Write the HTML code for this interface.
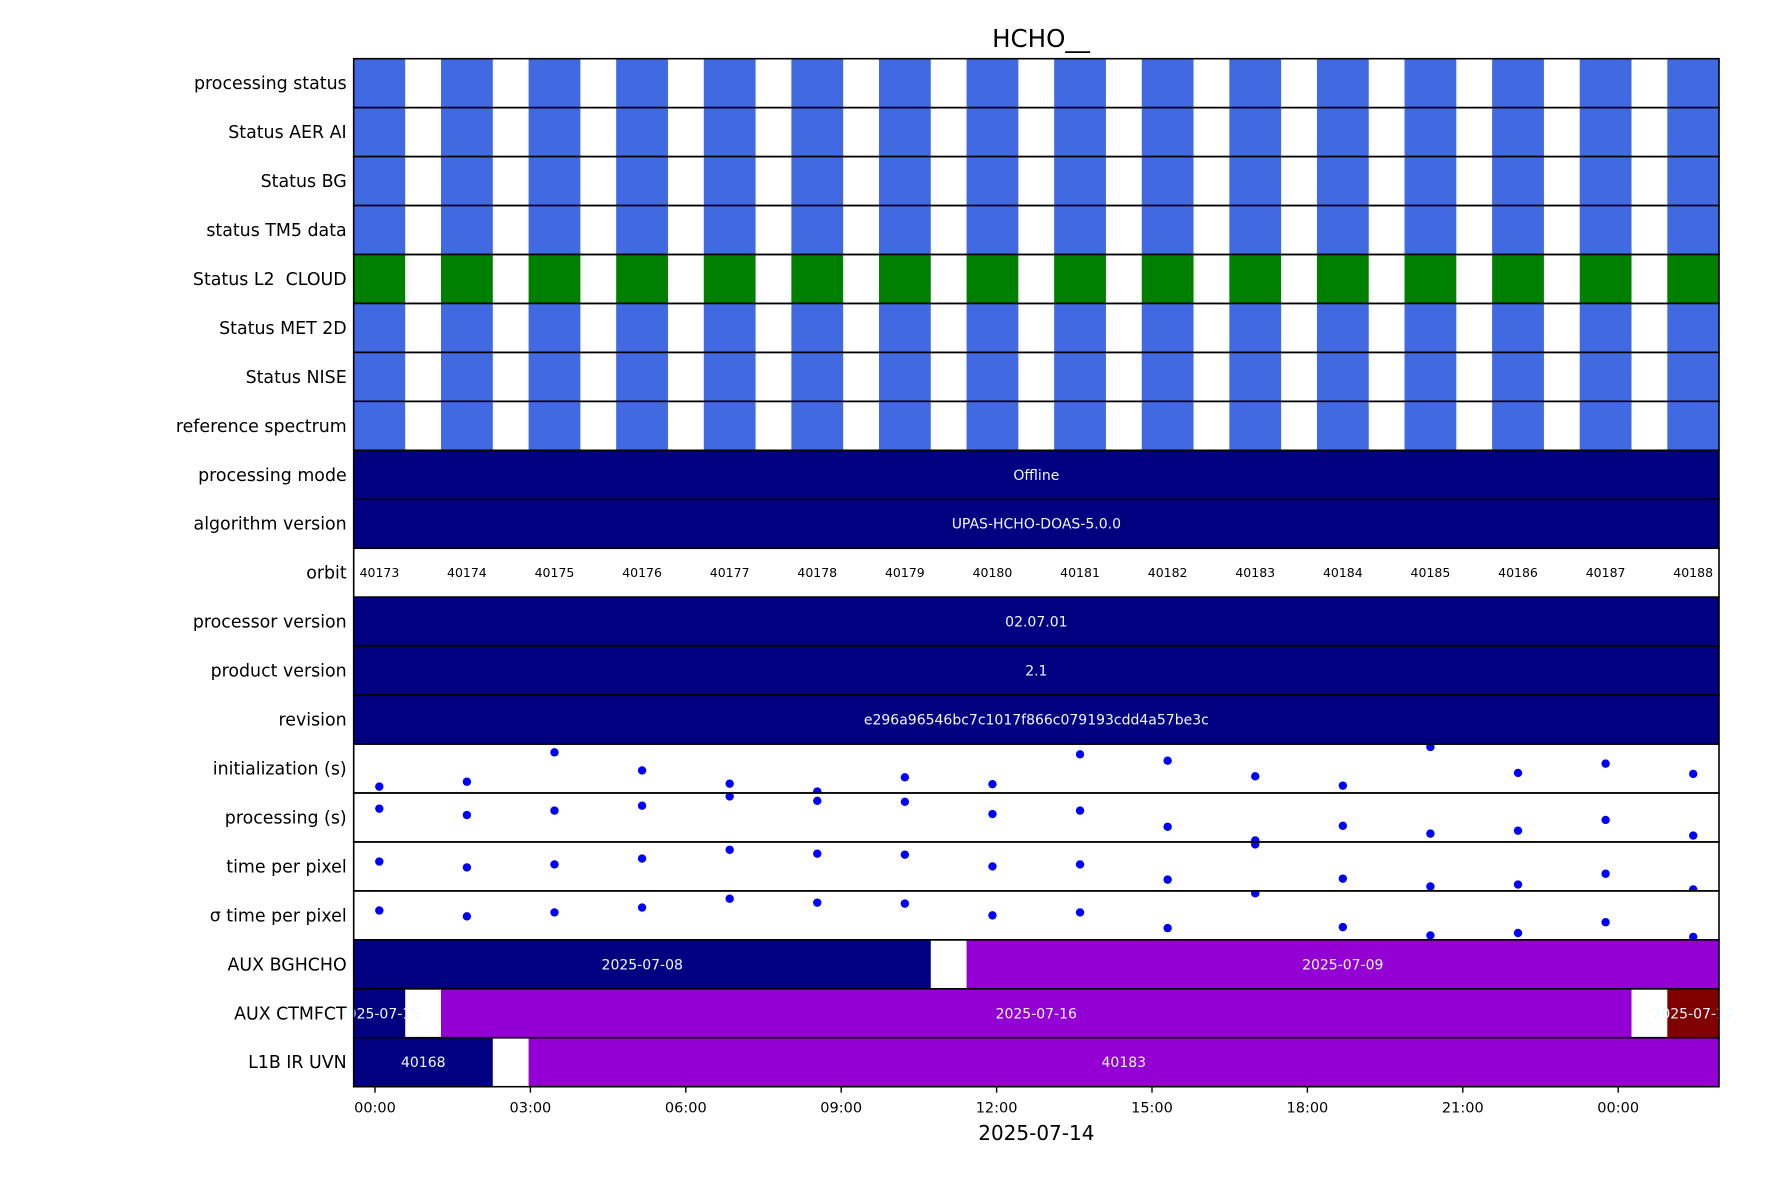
<!DOCTYPE html>
<html><head><meta charset="utf-8"><style>
html,body{margin:0;padding:0;background:#fff}
svg{display:block;font-family:"DejaVu Sans","Liberation Sans",sans-serif}
text{white-space:pre}
</style></head><body>
<svg id="chart" width="1771" height="1181" viewBox="0 0 1771 1181" xmlns="http://www.w3.org/2000/svg"></svg>
<script>
const rowLabels = ["processing status","Status AER AI","Status BG","status TM5 data","Status L2  CLOUD","Status MET 2D","Status NISE","reference spectrum","processing mode","algorithm version","orbit","processor version","product version","revision","initialization (s)","processing (s)","time per pixel","σ time per pixel","AUX BGHCHO","AUX CTMFCT","L1B IR UVN"];
const orbitNumbers = [40173,40174,40175,40176,40177,40178,40179,40180,40181,40182,40183,40184,40185,40186,40187,40188];
const orbitStartHours = [-0.417,1.274,2.965,4.656,6.347,8.038,9.729,11.420,13.111,14.802,16.493,18.184,19.875,21.566,23.257,24.948];
const orbitDurationHours = 1.0;
const initValues = [0.13,0.23,0.83,0.46,0.19,0.03,0.32,0.18,0.79,0.66,0.34,0.15,0.94,0.41,0.60,0.39];
const procValues = [0.68,0.55,0.64,0.74,0.93,0.84,0.82,0.57,0.64,0.31,0.03,0.33,0.17,0.23,0.45,0.13];
const tppValues = [0.60,0.48,0.54,0.66,0.84,0.76,0.74,0.50,0.54,0.23,0.95,0.25,0.09,0.13,0.35,0.03];
const sigmaValues = [0.60,0.48,0.56,0.66,0.84,0.76,0.74,0.50,0.56,0.24,0.95,0.26,0.09,0.14,0.36,0.06];
const constantRows = {8:"Offline",9:"UPAS-HCHO-DOAS-5.0.0",11:"02.07.01",12:"2.1",13:"e296a96546bc7c1017f866c079193cdd4a57be3c"};
const bgStarts = [-0.417,11.420], bgEnds = [10.729,25.95], bgLabels = ["2025-07-08","2025-07-09"], bgColors = ["#000080","#9400D3"];
const ctmStarts = [-0.417,1.274,24.948], ctmEnds = [0.583,24.257,25.95], ctmLabels = ["2025-07-15","2025-07-16","2025-07-17"], ctmColors = ["#000080","#9400D3","#800000"];
const l1bStarts = [-0.417,2.965], l1bEnds = [2.274,25.95], l1bLabels = ["40168","40183"], l1bColors = ["#000080","#9400D3"];
const tickHours = [0,3,6,9,12,15,18,21,24];
const tickLabels = ["00:00","03:00","06:00","09:00","12:00","15:00","18:00","21:00","00:00"];

const NS="http://www.w3.org/2000/svg";
const svg=document.getElementById('chart');
const L=353.7,R=1719,T=58.7,B=1086.7,N=rowLabels.length,RH=(B-T)/N;
const x0=375,pxh=51.8;
const xs=h=>x0+pxh*h;
const rowTop=i=>T+i*RH;
function el(tag,attrs,parent){const e=document.createElementNS(NS,tag);for(const k in attrs)e.setAttribute(k,attrs[k]);(parent||svg).appendChild(e);return e;}
const defs=el('defs',{});
for(let i=0;i<N;i++){const cp=el('clipPath',{id:'c'+i},defs);el('rect',{x:L,y:rowTop(i),width:R-L,height:RH},cp);}
const clampX=h=>Math.max(L,Math.min(R,xs(h)));

const title=el('text',{x:1041,y:47,'font-size':24.5,'text-anchor':'middle',fill:'#000'});


title.textContent='HCHO__';

for(let i=0;i<N;i++){
  const g=el('g',{'clip-path':'url(#c'+i+')'});
  
  
  const y=rowTop(i);
  if(i<8){
    const col=i===4?'#008000':'#4169E1';
    orbitStartHours.forEach((s,k)=>{
      const r=el('rect',{x:xs(s),y:y,width:pxh*orbitDurationHours,height:RH,fill:col},g);
      
      
    });
  } else if(constantRows[i]!==undefined){
    const r=el('rect',{x:L,y:y,width:R-L,height:RH,fill:'#000080'},g);
    
    
    const t=el('text',{x:(L+R)/2,y:y+RH/2+5,'font-size':14,'text-anchor':'middle',fill:'#f0f8ff'},g);
    
    
    t.textContent=constantRows[i];
  } else if(i===10){
    orbitStartHours.forEach((s,k)=>{
      const cx=(clampX(s)+clampX(s+orbitDurationHours))/2;
      const t=el('text',{x:cx,y:y+RH/2+4.5,'font-size':12.5,'text-anchor':'middle',fill:'#000'},g);
      
      
      t.textContent=orbitNumbers[k];
    });
  } else if(i>=14&&i<=17){
    const vals=[initValues,procValues,tppValues,sigmaValues][i-14];
    vals.forEach((v,k)=>{
      const cx=xs(orbitStartHours[k]+orbitDurationHours/2);
      const cy=y+RH-v*RH;
      const c=el('circle',{cx:cx,cy:cy,r:4.2,fill:'#0000FF'},g);
      
      
    });
  } else {
    const sets={18:[bgStarts,bgEnds,bgLabels,bgColors],19:[ctmStarts,ctmEnds,ctmLabels,ctmColors],20:[l1bStarts,l1bEnds,l1bLabels,l1bColors]}[i];
    const [st,en,lb,co]=sets;
    st.forEach((s,k)=>{
      const r=el('rect',{x:xs(s),y:y,width:xs(en[k])-xs(s),height:RH,fill:co[k]},g);
      
      
    });
    st.forEach((s,k)=>{
      const cx=(clampX(s)+clampX(en[k]))/2;
      const t=el('text',{x:cx,y:y+RH/2+5,'font-size':14,'text-anchor':'middle',fill:'#f0f8ff'},svg);
      
      
      t.textContent=lb[k];
    });
  }
  const fr=el('rect',{x:L,y:y,width:R-L,height:RH,fill:'none',stroke:'#000','stroke-width':1.6});
  
  
  const lt=el('text',{x:L-7,y:y+RH/2+6,'font-size':17.4,'text-anchor':'end',fill:'#000'});
  
  
  lt.textContent=rowLabels[i];
}
tickHours.forEach((h,k)=>{
  const tk=el('line',{x1:xs(h),x2:xs(h),y1:B,y2:B+6,stroke:'#000','stroke-width':1.4});
  
  
  const t=el('text',{x:xs(h),y:B+26,'font-size':14.5,'text-anchor':'middle',fill:'#000'});
  
  
  t.textContent=tickLabels[k];
});
const xl=el('text',{x:(L+R)/2,y:1140,'font-size':20,'text-anchor':'middle',fill:'#000'});


xl.textContent='2025-07-14';
</script>
</body></html>
